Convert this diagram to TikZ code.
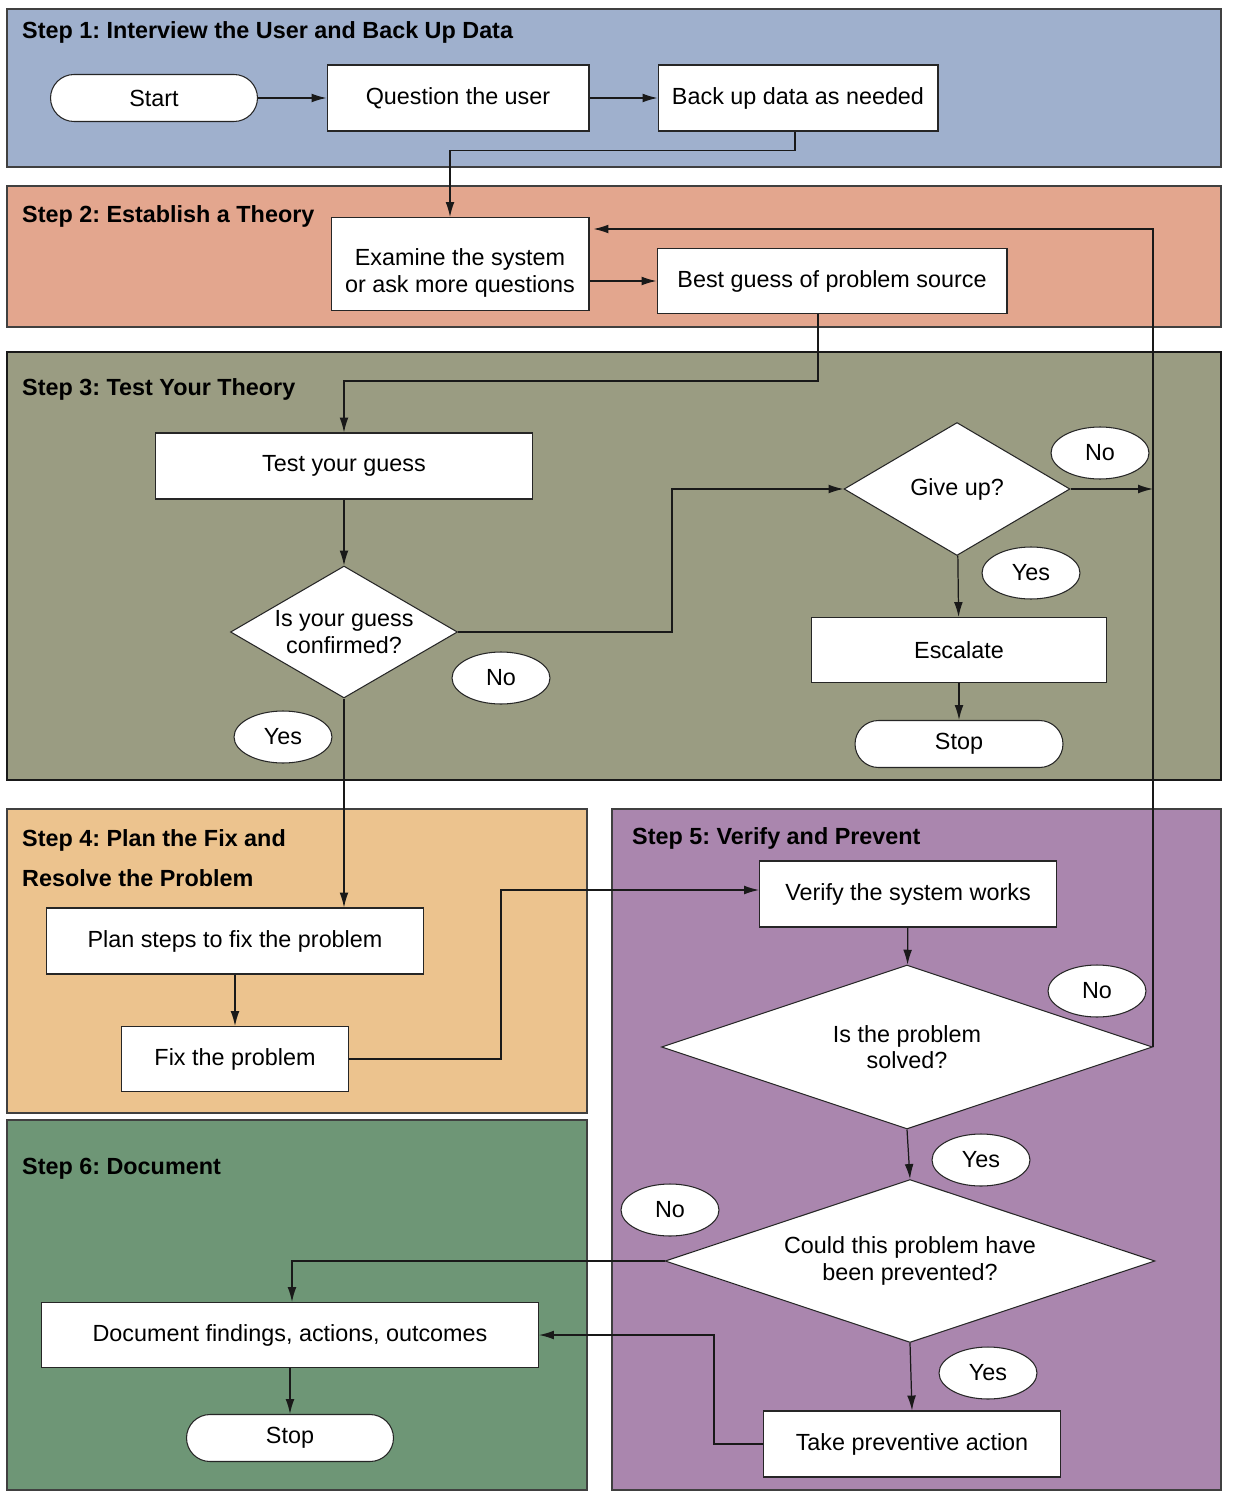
\documentclass[tikz,border=0pt]{standalone}
\usepackage{fontspec}
\setmainfont{Liberation Sans}
\usetikzlibrary{shapes.geometric,arrows.meta}

\definecolor{stepblue}{HTML}{9FB0CD}
\definecolor{stepsalmon}{HTML}{E3A68E}
\definecolor{stepolive}{HTML}{9A9C82}
\definecolor{steptan}{HTML}{ECC38E}
\definecolor{steppurple}{HTML}{AA86AE}
\definecolor{stepgreen}{HTML}{6E9676}

\begin{document}
\frenchspacing
\begin{tikzpicture}[x=0.02cm, y=-0.02cm,
        every node/.style={font=\fontsize{13.3}{15}\selectfont},
        proc/.style={draw=black!85, fill=white, line width=0.6pt, inner sep=2pt},
        term/.style={proc, rounded corners=0.47cm, minimum width=4.14cm, minimum height=0.94cm},
        decide/.style={diamond, draw=black!85, fill=white, line width=0.6pt, inner sep=0pt, align=center},
        answer/.style={ellipse, draw=black!85, fill=white, line width=0.6pt, minimum width=1.96cm, minimum height=1.04cm, inner sep=0pt},
        title/.style={anchor=west, font=\bfseries\fontsize{13.3}{22.7}\selectfont, align=left},
        arr/.style={-{Latex[length=8.5pt,width=5pt]}, line width=0.7pt, black!90},
        panel/.style={draw=black!75, line width=0.6pt}]

        \useasboundingbox (0, 0) rectangle (1232, 1500);

        % Panels
        \draw[panel, fill=stepblue] (7, 9) rectangle (1221, 167);
        \draw[panel, fill=stepsalmon] (7, 186) rectangle (1221, 327);
        \draw[panel, fill=stepolive, draw=black!90, line width=1.2pt] (7, 352) rectangle (1221, 780);
        \draw[panel, fill=steptan] (7, 809) rectangle (587, 1113);
        \draw[panel, fill=steppurple] (612, 809) rectangle (1221, 1490);
        \draw[panel, fill=stepgreen] (7, 1120) rectangle (587, 1490);

        % Titles
        \node[title] (t1) at (16, 32) {Step 1: Interview the User and Back Up Data};
        \node[title] (t2) at (16, 216) {Step 2: Establish a Theory};
        \node[title] (t3) at (16, 389) {Step 3: Test Your Theory};
        \node[title] (t4) at (16, 858) {Step 4: Plan the Fix and\\Resolve the Problem};
        \node[title] (t5) at (626, 838) {Step 5: Verify and Prevent};
        \node[title] (t6) at (16, 1169) {Step 6: Document};

        % Step 1
        \node[term] (start) at (154, 98) {Start};
        \node[proc, minimum width=5.24cm, minimum height=1.32cm] (question) at (458, 98) {Question the user};
        \node[proc, minimum width=5.6cm, minimum height=1.32cm] (backup) at (798, 98) {Back up data as needed};

        % Step 2
        \node[proc, minimum width=5.16cm, minimum height=1.86cm, align=center] (examine) at (460, 264) {\rule{0pt}{0.7cm}Examine the system\\or ask more questions};
        \node[proc, minimum width=7cm, minimum height=1.3cm] (best) at (832, 281) {Best guess of problem source};

        % Step 3
        \node[proc, minimum width=7.54cm, minimum height=1.32cm] (test) at (344, 466) {Test your guess};
        \node[decide, minimum width=4.54cm, minimum height=2.64cm, aspect=1.72] (confirmed) at (344, 632) {Is your guess\\confirmed?};
        \node[decide, minimum width=4.52cm, minimum height=2.66cm, aspect=1.7] (giveup) at (957, 489) {Give up?};
        \node[proc, minimum width=5.9cm, minimum height=1.3cm] (escalate) at (959, 650) {Escalate};
        \node[term, minimum width=4.16cm] (stopa) at (959, 744) {Stop};
        \node[answer] (nogive) at (1100, 453) {No};
        \node[answer] (yesgive) at (1031, 573) {Yes};
        \node[answer] (noconf) at (501, 678) {No};
        \node[answer] (yesconf) at (283, 737) {Yes};

        % Step 4
        \node[proc, minimum width=7.54cm, minimum height=1.32cm] (plan) at (235, 941) {Plan steps to fix the problem};
        \node[proc, minimum width=4.54cm, minimum height=1.3cm] (fix) at (235, 1059) {Fix the problem};

        % Step 5
        \node[proc, minimum width=5.94cm, minimum height=1.32cm] (verify) at (908, 894) {Verify the system works};
        \node[decide, minimum width=9.82cm, minimum height=3.28cm, aspect=3] (solved) at (907, 1047) {Is the problem\\solved?};
        \node[decide, minimum width=9.8cm, minimum height=3.26cm, aspect=3] (could) at (910, 1261) {Could this problem have\\been prevented?};
        \node[proc, minimum width=5.94cm, minimum height=1.32cm] (take) at (912, 1444) {Take preventive action};
        \node[answer] (nosolved) at (1097, 991) {No};
        \node[answer] (yessolved) at (981, 1160) {Yes};
        \node[answer] (nocould) at (670, 1210) {No};
        \node[answer] (yescould) at (988, 1373) {Yes};

        % Step 6
        \node[proc, minimum width=9.94cm, minimum height=1.3cm] (document) at (290, 1335) {Document findings, actions, outcomes};
        \node[term] (stopb) at (290, 1438) {Stop};

        % Connectors
        \draw[arr] (start) -- (question);
        \draw[arr] (question) -- (backup);
        \draw[arr] ([xshift=-0.06cm]backup.south) -- ++(0, 19) -| ([xshift=-0.2cm]examine.north);
        \draw[arr] (examine.east |- best) -- (best);
        \draw[arr] ([xshift=-0.28cm]best.south) -- ++(0, 67) -| (test.north);
        \draw[arr] (test) -- (confirmed);
        \draw[arr] (confirmed.east) -- ++(214, 0) |- (giveup.west);
        \draw[arr] (giveup.east) -- (giveup.east -| solved.east);
        \draw[arr] (giveup) -- (escalate);
        \draw[arr] (escalate) -- (stopa);
        \draw[arr] (confirmed.south) -- (confirmed.south |- plan.north);
        \draw[arr] (plan) -- (fix);
        \draw[arr] (fix.east) -- ++(152, 0) |- ([yshift=0.08cm]verify.west);
        \draw[arr] (verify) -- (solved);
        \draw[arr] (solved.east) |- ([yshift=0.7cm, xshift=0.08cm]examine.east);
        \draw[arr] (solved.south) -- (could.north);
        \draw[arr] (could.west) -| ([xshift=0.04cm]document.north);
        \draw[arr] (could.south) -- (take.north);
        \draw[arr] (take.west) -- ++(-49, 0) |- (document.east);
        \draw[arr] (document.south) -- (stopb.north);

    \end{tikzpicture}
\end{document}
